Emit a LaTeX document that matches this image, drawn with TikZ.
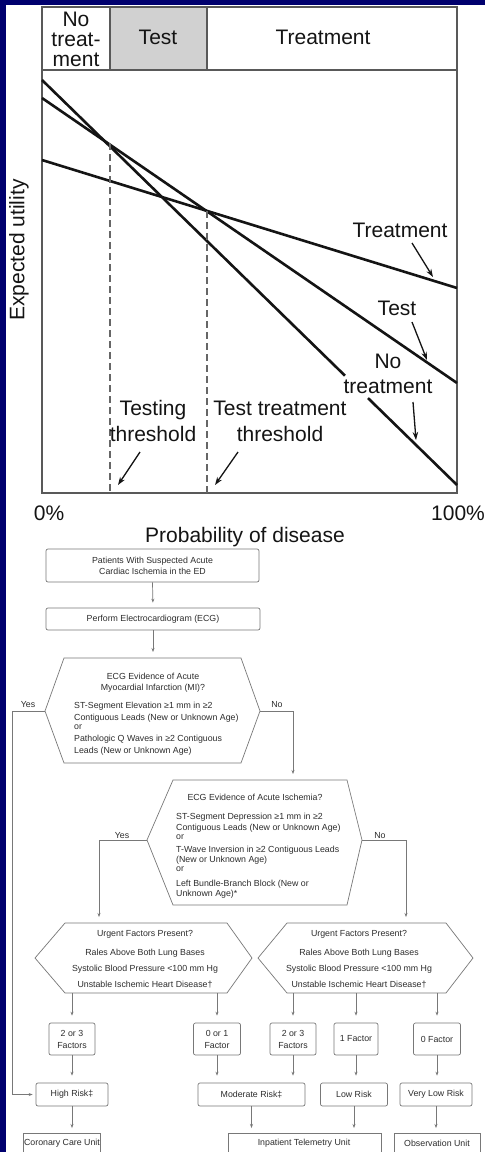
\documentclass[tikz,border=0pt]{standalone}
\usepackage{fontspec}
\setmainfont{Liberation Sans}
\usetikzlibrary{arrows.meta}
\definecolor{navy}{RGB}{0,0,110}
\definecolor{ink}{RGB}{20,20,20}
\definecolor{fcline}{RGB}{120,120,120}
\definecolor{fctext}{RGB}{45,45,45}
\begin{document}
\begin{tikzpicture}[x=1pt,y=-1pt,
  frame/.style={draw=black!65, line width=1.3pt},
  graphline/.style={line width=2.6pt, draw=ink},
  thr/.style={draw=black!60, line width=1.2pt, dash pattern=on 7pt off 4pt},
  lbl/.style={font=\fontsize{21}{25}\selectfont, inner sep=0pt, align=center, text=ink},
  ptr/.style={-{Stealth[length=8pt,width=5.5pt]}, line width=1.3pt, draw=ink},
  fc/.style={font=\fontsize{8.8}{11}\selectfont, text=fctext, inner sep=0pt},
  fbox/.style={draw=fcline, line width=0.7pt, rounded corners=2pt, fc, align=center},
  hexa/.style={draw=fcline, line width=0.7pt},
  conn/.style={draw=fcline, line width=0.7pt, -{Stealth[length=4pt,width=3pt]}},
  plain/.style={draw=fcline, line width=0.7pt}
]
\useasboundingbox (0,0) rectangle (485,1152);
\fill[navy] (0,0) rectangle (485,1152);
\fill[white] (6,5) rectangle (485,1152);

% ---------------- graph ----------------
\fill[black!18] (110,7) rectangle (207,70);
\draw[frame] (42,7) rectangle (457,493);
\draw[frame] (42,70) -- (457,70);
\draw[frame] (110,7) -- (110,70);
\draw[frame] (207,7) -- (207,70);

\node[lbl, font=\fontsize{21}{20}\selectfont] (hno) at (76,39) {No\\treat-\\ment};
\node[lbl] (htest) at (158,37) {Test};
\node[lbl] (htreat) at (323,37) {Treatment};

\coordinate (ntA) at (42,80);
\coordinate (ntB) at (345,375.7);
\coordinate (ntC) at (368,398.1);
\coordinate (ntD) at (457,485);
\coordinate (teA) at (42,98);
\coordinate (teB) at (457,383);
\coordinate (trA) at (42,160);
\coordinate (trB) at (457,288);
\draw[graphline] (ntA) -- (ntB);
\draw[graphline] (ntC) -- (ntD);
\draw[graphline] (teA) -- (teB);
\draw[graphline] (trA) -- (trB);

\coordinate (th1) at (110,143);
\coordinate (th1b) at (110,493);
\coordinate (th2) at (207,211);
\coordinate (th2b) at (207,493);
\draw[thr] (th1) -- (th1b);
\draw[thr] (th2) -- (th2b);

\node[lbl] (ltr) at (400,230) {Treatment};
\node[lbl] (lte) at (397,308) {Test};
\node[lbl] (lno) at (388,374) {No\\treatment};
\node[lbl, font=\fontsize{21}{26}\selectfont] (lts) at (153,421) {Testing\\threshold};
\node[lbl, font=\fontsize{21}{26}\selectfont] (ltt) at (280,421) {Test treatment\\threshold};

\coordinate (a1s) at (412,243); \coordinate (a1e) at (433,277);
\coordinate (a2s) at (412,322); \coordinate (a2e) at (427,360);
\coordinate (a3s) at (413,402); \coordinate (a3e) at (416,440);
\coordinate (a4s) at (140,452); \coordinate (a4e) at (118,485);
\coordinate (a5s) at (238,452); \coordinate (a5e) at (215,485);
\draw[ptr] (a1s) -- (a1e);
\draw[ptr] (a2s) -- (a2e);
\draw[ptr] (a3s) -- (a3e);
\draw[ptr] (a4s) -- (a4e);
\draw[ptr] (a5s) -- (a5e);

\node[lbl] (p0) at (49,513) {0\%};
\node[lbl] (p100) at (458,513) {100\%};
\node[lbl] (pdis) at (245,537) {Probability of disease};
\node[lbl, rotate=90] (eu) at (19,250) {Expected utility};

% ---------------- flowchart ----------------
\node[fbox, minimum width=213pt, minimum height=33pt] (b1) at (152.5,565.5)
  {Patients With Suspected Acute\\Cardiac Ischemia in the ED};
\node[fbox, minimum width=214pt, minimum height=22pt] (b2) at (153,619)
  {Perform Electrocardiogram (ECG)};
\draw[conn, shorten >=5pt] (b1.south) -- (b2.north);

% hexagon 1
\coordinate (h1t) at (153,658);
\coordinate (h1w) at (45,711);
\coordinate (h1e) at (260,711);
\draw[hexa] (64,658) -- (241,658) -- (h1e) -- (241,763) -- (64,763) -- (h1w) -- cycle;
\draw[conn, shorten >=6pt] (b2.south) -- (h1t);
\node[fc, anchor=base] (h1a) at (153,679) {ECG Evidence of Acute};
\node[fc, anchor=base] (h1b) at (153,690) {Myocardial Infarction (MI)?};
\node[fc, anchor=base west] (h1c) at (74,708) {ST-Segment Elevation ≥1 mm in ≥2};
\node[fc, anchor=base west] (h1d) at (74,720) {Contiguous Leads (New or Unknown Age)};
\node[fc, anchor=base west] (h1e2) at (74,729.5) {or};
\node[fc, anchor=base west] (h1f) at (74,741) {Pathologic Q Waves in ≥2 Contiguous};
\node[fc, anchor=base west] (h1g) at (74,753) {Leads (New or Unknown Age)};
\node[fc] (y1) at (28,705) {Yes};
\node[fc] (n1) at (277,705) {No};

% hexagon 2
\coordinate (h2t) at (293,780);
\coordinate (h2w) at (147,840);
\coordinate (h2e) at (362,840);
\draw[hexa] (173,780) -- (347,780) -- (h2e) -- (347,905) -- (173,905) -- (h2w) -- cycle;
\draw[conn, shorten >=6pt] (h1e) -| (h2t);
\node[fc, anchor=base] (h2a) at (255,800) {ECG Evidence of Acute Ischemia?};
\node[fc, anchor=base west] (h2b) at (176,819) {ST-Segment Depression ≥1 mm in ≥2};
\node[fc, anchor=base west] (h2c) at (176,830) {Contiguous Leads (New or Unknown Age)};
\node[fc, anchor=base west] (h2d) at (176,839) {or};
\node[fc, anchor=base west] (h2e2) at (176,852) {T-Wave Inversion in ≥2 Contiguous Leads};
\node[fc, anchor=base west] (h2f) at (176,862) {(New or Unknown Age)};
\node[fc, anchor=base west] (h2g) at (176,871) {or};
\node[fc, anchor=base west] (h2h) at (176,886) {Left Bundle-Branch Block (New or};
\node[fc, anchor=base west] (h2i) at (176,896) {Unknown Age)*};
\node[fc] (y2) at (122,836) {Yes};
\node[fc] (n2) at (380,836) {No};

% hexagon 3 and 4
\coordinate (h3t) at (99,923);
\coordinate (h3w) at (35,958);
\coordinate (h3e) at (252,958);
\draw[hexa] (65,923) -- (227,923) -- (h3e) -- (227,993) -- (65,993) -- (h3w) -- cycle;
\coordinate (h4t) at (406,923);
\coordinate (h4w) at (258,958);
\coordinate (h4e) at (473,958);
\draw[hexa] (287,923) -- (446,923) -- (h4e) -- (446,993) -- (287,993) -- (h4w) -- cycle;
\draw[conn, shorten >=6pt] (h2w) -| (h3t);
\draw[conn, shorten >=6pt] (h2e) -| (h4t);

\node[fc, anchor=base] (h3a) at (145,936) {Urgent Factors Present?};
\node[fc, anchor=base] (h3b) at (145,955) {Rales Above Both Lung Bases};
\node[fc, anchor=base] (h3c) at (145,971) {Systolic Blood Pressure <100 mm Hg};
\node[fc, anchor=base] (h3d) at (145,987) {Unstable Ischemic Heart Disease†};
\node[fc, anchor=base] (h4a) at (359,936) {Urgent Factors Present?};
\node[fc, anchor=base] (h4b) at (359,955) {Rales Above Both Lung Bases};
\node[fc, anchor=base] (h4c) at (359,971) {Systolic Blood Pressure <100 mm Hg};
\node[fc, anchor=base] (h4d) at (359,987) {Unstable Ischemic Heart Disease†};

\coordinate (h3b1) at (72,993);
\coordinate (h3b2) at (217,993);
\coordinate (h4b1) at (293,993);
\coordinate (h4b2) at (356,993);
\coordinate (h4b3) at (437,993);

% factor boxes
\node[fbox, minimum width=46pt, minimum height=32pt, font=\fontsize{8.8}{12}\selectfont] (f1) at (72,1039) {2 or 3\\Factors};
\node[fbox, minimum width=47pt, minimum height=32pt, font=\fontsize{8.8}{12}\selectfont] (f2) at (217,1039) {0 or 1\\Factor};
\node[fbox, minimum width=46pt, minimum height=32pt, font=\fontsize{8.8}{12}\selectfont] (f3) at (293,1039) {2 or 3\\Factors};
\node[fbox, minimum width=44pt, minimum height=32pt] (f4) at (356,1039) {1 Factor};
\node[fbox, minimum width=47pt, minimum height=32pt] (f5) at (437,1039) {0 Factor};
\draw[conn, shorten >=7pt] (h3b1) -- (f1.north);
\draw[conn, shorten >=7pt] (h3b2) -- (f2.north);
\draw[conn, shorten >=7pt] (h4b1) -- (f3.north);
\draw[conn, shorten >=7pt] (h4b2) -- (f4.north);
\draw[conn, shorten >=7pt] (h4b3) -- (f5.north);

% risk boxes
\node[fbox, minimum width=72pt, minimum height=23pt] (r1) at (72,1094.5) {High Risk‡};
\node[fbox, minimum width=107pt, minimum height=23pt] (r2) at (251.5,1094.5) {Moderate Risk‡};
\node[fbox, minimum width=67pt, minimum height=23pt] (r3) at (354,1094.5) {Low Risk};
\node[fbox, minimum width=72pt, minimum height=23pt] (r4) at (436,1094.5) {Very Low Risk};
\draw[conn, shorten >=7pt] (f1.south) -- (r1.north);
\draw[conn, shorten >=7pt] (f2.south) -- (f2.south |- r2.north);
\draw[conn, shorten >=7pt] (f3.south) -- (f3.south |- r2.north);
\draw[conn, shorten >=7pt] (f4.south) -- (f4.south |- r3.north);
\draw[conn, shorten >=7pt] (f5.south) -- (f5.south |- r4.north);
\draw[conn, shorten >=3pt] (h1w) -- ++(-33,0) |- (r1.west);

% unit boxes (cut off by the lower edge)
\begin{scope}
\clip (0,0) rectangle (485,1152);
\node[fbox, rounded corners=0pt, minimum width=77pt, minimum height=34pt, anchor=north] (u1) at (61.5,1133) {};
\node[fbox, rounded corners=0pt, minimum width=153pt, minimum height=34pt, anchor=north] (u2) at (304.5,1133) {};
\node[fbox, rounded corners=0pt, minimum width=86pt, minimum height=34pt, anchor=north] (u3) at (437,1133) {};
\end{scope}
\node[fc] (u1t) at (62,1143) {Coronary Care Unit};
\node[fc] (u2t) at (304,1143) {Inpatient Telemetry Unit};
\node[fc] (u3t) at (437,1143) {Observation Unit};
\draw[conn, shorten >=5pt] (r1.south) -- (r1.south |- u1.north);
\draw[conn, shorten >=5pt] (r2.south) -- (r2.south |- u2.north);
\draw[conn, shorten >=5pt] (r3.south) -- (r3.south |- u2.north);
\draw[conn, shorten >=5pt] (r4.south) -- (r4.south |- u3.north);
\end{tikzpicture}
\end{document}
